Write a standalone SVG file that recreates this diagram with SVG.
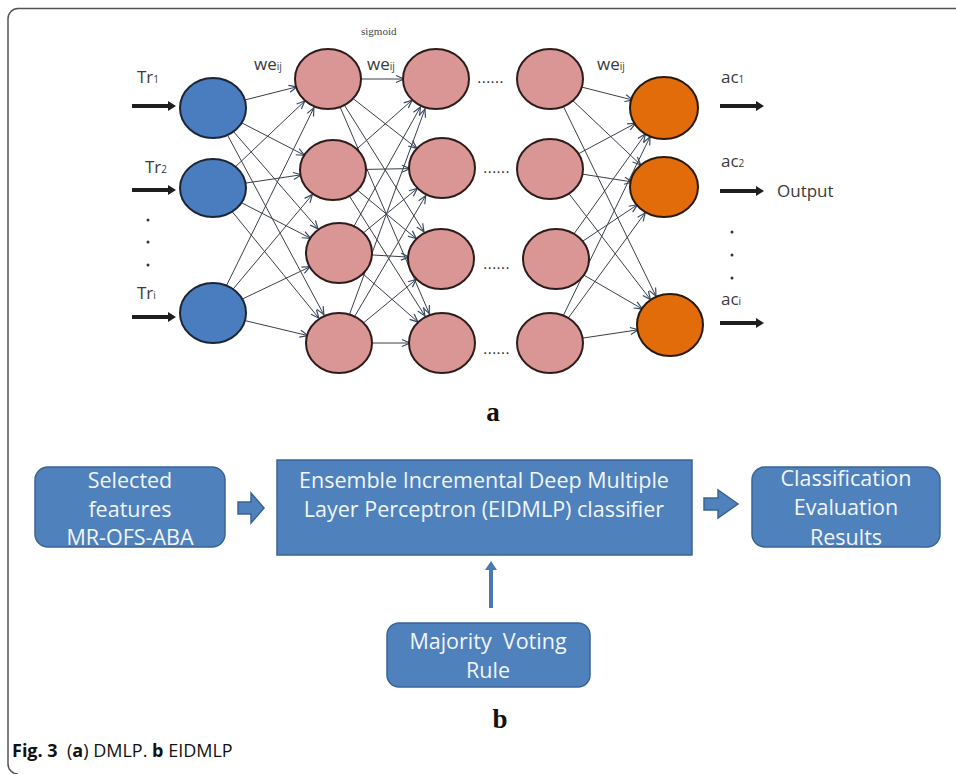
<svg xmlns="http://www.w3.org/2000/svg" width="956" height="774" viewBox="0 0 956 774">
<style>
  .lbl{font-family:"Open Sans","Liberation Sans",sans-serif;font-size:17px;fill:#3a3a3a}
  .sub{font-size:10px}
  .dots{font-family:"Liberation Sans",sans-serif;font-size:16px;fill:#333}
  .conn line{stroke:#3a3f47;stroke-width:1;marker-end:url(#ah)}
  .inp{fill:#4a7dc0;stroke:#1c2536;stroke-width:2}
  .hid{fill:#d99694;stroke:#2e1c1c;stroke-width:2}
  .out{fill:#e36c0a;stroke:#2a1a0c;stroke-width:2}
  .box{fill:#4f81bd;stroke:#3a6496;stroke-width:1.5}
  .btxt{font-family:"Open Sans","Liberation Sans",sans-serif;font-size:21.5px;fill:#f2f5fa;text-anchor:middle}
  .thick{fill:#1e1e1e}
  .serifb{font-family:"Liberation Serif",serif;font-weight:bold;font-size:27px;fill:#111;text-anchor:middle}
</style>
<defs>
  <marker id="ah" markerUnits="userSpaceOnUse" markerWidth="10" markerHeight="10" orient="auto" refX="0" refY="0" overflow="visible">
    <path d="M-40,-3.5 L-32,0 L-40,3.5" fill="none" stroke="#3a4a66" stroke-width="1.2"/>
  </marker>
</defs>
<rect width="956" height="774" fill="#fff"/>
<path d="M956,8.5 H18 A10 10 0 0 0 8 18.5 V764 A10 10 0 0 0 18 774" fill="none" stroke="#555" stroke-width="1.5"/>

<g id="connectors" class="conn">
  <line x1="213" y1="108" x2="328" y2="79"/>
  <line x1="213" y1="108" x2="333" y2="170"/>
  <line x1="213" y1="108" x2="339" y2="253"/>
  <line x1="213" y1="108" x2="339" y2="343"/>
  <line x1="213" y1="188" x2="328" y2="79"/>
  <line x1="213" y1="188" x2="333" y2="170"/>
  <line x1="213" y1="188" x2="339" y2="253"/>
  <line x1="213" y1="188" x2="339" y2="343"/>
  <line x1="213" y1="313" x2="328" y2="79"/>
  <line x1="213" y1="313" x2="333" y2="170"/>
  <line x1="213" y1="313" x2="339" y2="253"/>
  <line x1="213" y1="313" x2="339" y2="343"/>
  <line x1="328" y1="79" x2="436" y2="79"/>
  <line x1="328" y1="79" x2="442" y2="168"/>
  <line x1="328" y1="79" x2="441" y2="259"/>
  <line x1="328" y1="79" x2="442" y2="343"/>
  <line x1="333" y1="170" x2="436" y2="79"/>
  <line x1="333" y1="170" x2="442" y2="168"/>
  <line x1="333" y1="170" x2="441" y2="259"/>
  <line x1="333" y1="170" x2="442" y2="343"/>
  <line x1="339" y1="253" x2="436" y2="79"/>
  <line x1="339" y1="253" x2="442" y2="168"/>
  <line x1="339" y1="253" x2="441" y2="259"/>
  <line x1="339" y1="253" x2="442" y2="343"/>
  <line x1="339" y1="343" x2="436" y2="79"/>
  <line x1="339" y1="343" x2="442" y2="168"/>
  <line x1="339" y1="343" x2="441" y2="259"/>
  <line x1="339" y1="343" x2="442" y2="343"/>
  <line x1="550" y1="79" x2="664" y2="108"/>
  <line x1="550" y1="79" x2="664" y2="187"/>
  <line x1="550" y1="79" x2="670" y2="325"/>
  <line x1="550" y1="169" x2="664" y2="108"/>
  <line x1="550" y1="169" x2="664" y2="187"/>
  <line x1="550" y1="169" x2="670" y2="325"/>
  <line x1="556" y1="259" x2="664" y2="108"/>
  <line x1="556" y1="259" x2="664" y2="187"/>
  <line x1="556" y1="259" x2="670" y2="325"/>
  <line x1="550" y1="343" x2="664" y2="108"/>
  <line x1="550" y1="343" x2="664" y2="187"/>
  <line x1="550" y1="343" x2="670" y2="325"/>
</g>

<g id="input-nodes">
  <ellipse id="in1" class="inp" cx="213" cy="108" rx="33" ry="30"/>
  <ellipse id="in2" class="inp" cx="213" cy="188" rx="33" ry="29"/>
  <ellipse id="in3" class="inp" cx="213" cy="313" rx="33" ry="30"/>
</g>
<g id="hidden1">
  <ellipse class="hid" cx="328" cy="79" rx="33" ry="30"/>
  <ellipse class="hid" cx="333" cy="170" rx="33" ry="30"/>
  <ellipse class="hid" cx="339" cy="253" rx="33" ry="30"/>
  <ellipse class="hid" cx="339" cy="343" rx="33" ry="30"/>
</g>
<g id="hidden2">
  <ellipse class="hid" cx="436" cy="79" rx="33" ry="30"/>
  <ellipse class="hid" cx="442" cy="168" rx="33" ry="30"/>
  <ellipse class="hid" cx="441" cy="259" rx="33" ry="30"/>
  <ellipse class="hid" cx="442" cy="343" rx="33" ry="30"/>
</g>
<g id="hidden3">
  <ellipse class="hid" cx="550" cy="79" rx="33" ry="30"/>
  <ellipse class="hid" cx="550" cy="169" rx="33" ry="30"/>
  <ellipse class="hid" cx="556" cy="259" rx="33" ry="30"/>
  <ellipse class="hid" cx="550" cy="343" rx="33" ry="30"/>
</g>
<g id="output-nodes">
  <ellipse class="out" cx="664" cy="108" rx="34" ry="31"/>
  <ellipse class="out" cx="664" cy="187" rx="34" ry="30"/>
  <ellipse class="out" cx="670" cy="325" rx="33" ry="31"/>
</g>

<g id="ellipsis">
  <text class="dots" x="477" y="83">......</text>
  <text class="dots" x="483" y="173">......</text>
  <text class="dots" x="483" y="269">......</text>
  <text class="dots" x="483" y="354">......</text>
</g>

<g id="input-labels">
  <text class="lbl" x="137" y="83">Tr<tspan class="sub">1</tspan></text>
  <path class="thick" d="M132,104 H168 V101 L176,106 L168,111 V108 H132 Z"/>
  <text class="lbl" x="145" y="173">Tr<tspan class="sub">2</tspan></text>
  <path class="thick" d="M132,188 H168 V185 L176,190 L168,195 V192 H132 Z"/>
  <circle cx="148" cy="220" r="1.5" fill="#333"/>
  <circle cx="148" cy="242" r="1.5" fill="#333"/>
  <circle cx="148" cy="265" r="1.5" fill="#333"/>
  <text class="lbl" x="137" y="299">Tr<tspan class="sub">i</tspan></text>
  <path class="thick" d="M132,315 H168 V312 L176,317 L168,322 V319 H132 Z"/>
</g>

<g id="weight-labels">
  <text class="lbl" x="254" y="70">we<tspan class="sub">ij</tspan></text>
  <text class="lbl" x="367" y="70">we<tspan class="sub">ij</tspan></text>
  <text class="lbl" x="597" y="70">we<tspan class="sub">ij</tspan></text>
  <text x="361" y="35" font-family="Liberation Serif,serif" font-size="11" fill="#444">sigmoid</text>
</g>

<g id="output-labels">
  <text class="lbl" x="721" y="83">ac<tspan class="sub">1</tspan></text>
  <path class="thick" d="M720,104 H756 V101 L764,106 L756,111 V108 H720 Z"/>
  <text class="lbl" x="721" y="167">ac<tspan class="sub">2</tspan></text>
  <path class="thick" d="M720,189 H756 V186 L764,191 L756,196 V193 H720 Z"/>
  <text class="lbl" x="777" y="197">Output</text>
  <circle cx="732" cy="232" r="1.5" fill="#333"/>
  <circle cx="732" cy="255" r="1.5" fill="#333"/>
  <circle cx="732" cy="278" r="1.5" fill="#333"/>
  <text class="lbl" x="721" y="305">ac<tspan class="sub">i</tspan></text>
  <path class="thick" d="M720,321 H756 V318 L764,323 L756,328 V325 H720 Z"/>
</g>

<text class="serifb" x="493" y="421">a</text>

<g id="selected-features">
  <rect class="box" x="35" y="467" width="190" height="80" rx="13"/>
  <text class="btxt" x="130" y="488">Selected</text>
  <text class="btxt" x="130" y="517">features</text>
  <text class="btxt" x="130" y="545">MR-OFS-ABA</text>
</g>
<g id="eidmlp">
  <rect class="box" x="277" y="460" width="415" height="95"/>
  <text class="btxt" x="484" y="488">Ensemble Incremental Deep Multiple</text>
  <text class="btxt" x="484" y="517">Layer Perceptron (EIDMLP) classifier</text>
</g>
<g id="results">
  <rect class="box" x="752" y="467" width="188" height="80" rx="13"/>
  <text class="btxt" x="846" y="486">Classification</text>
  <text class="btxt" x="846" y="515">Evaluation</text>
  <text class="btxt" x="846" y="545">Results</text>
</g>
<g id="majority">
  <rect class="box" x="387" y="623" width="203" height="64" rx="12"/>
  <text class="btxt" x="488" y="649" font-size="20" xml:space="preserve">Majority  Voting</text>
  <text class="btxt" x="488" y="678" font-size="20">Rule</text>
</g>

<g id="flow-arrows">
  <path class="box" d="M238,502 H251 V493 L264,508 L251,523 V514 H238 Z"/>
  <path class="box" d="M704,498 H718 V490 L738,504 L718,518 V510 H704 Z"/>
  <path d="M489,608 V570 H485 L491,561 L497,570 H493 V608 Z" fill="#4a78b0"/>
</g>

<text class="serifb" x="500" y="728">b</text>

<text x="12" y="757" font-family="'Open Sans','Liberation Sans',sans-serif" font-size="18" fill="#111" xml:space="preserve"><tspan font-weight="bold">Fig. 3</tspan>  (<tspan font-weight="bold">a</tspan>) DMLP. <tspan font-weight="bold">b</tspan> EIDMLP</text>
</svg>
